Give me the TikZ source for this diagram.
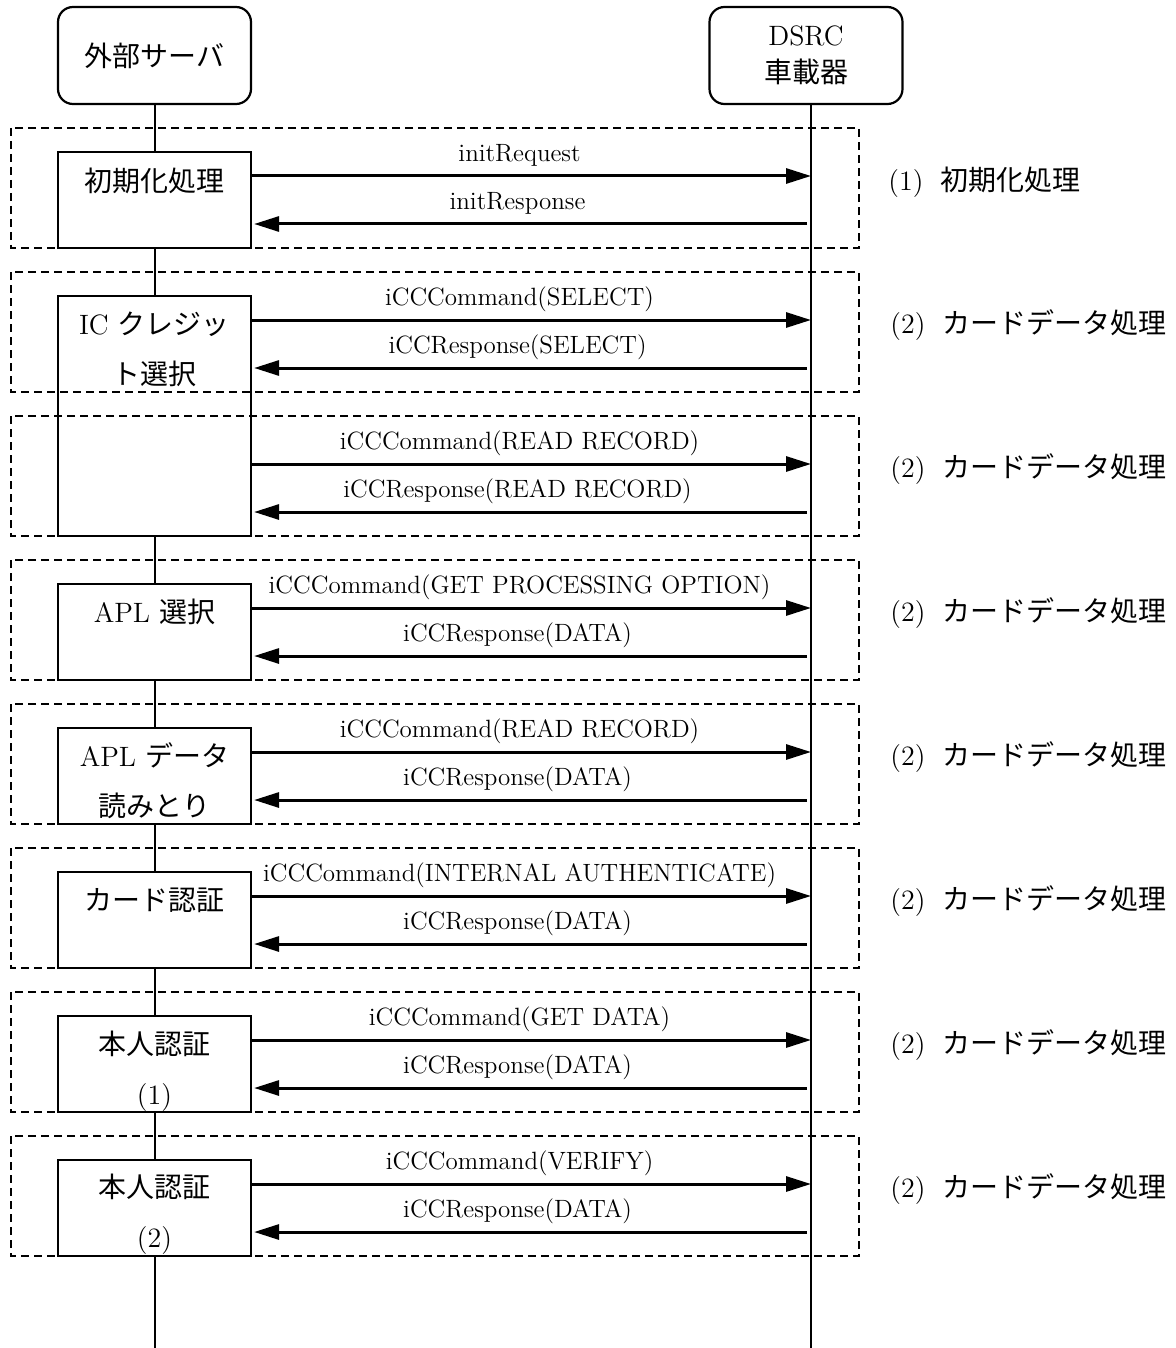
\documentclass[tikz,border=0pt]{standalone}
\usepackage{fontspec}
\newfontfamily\cjk{Noto Sans CJK JP}
\usetikzlibrary{arrows.meta, positioning}
\tikzset{
  seq/.style = {
    >={Triangle[length=12.5pt, width=7.5pt]},
  },
  head/.style = {
    rectangle, rounded corners=7.5pt, draw, line width=1.1pt,
    minimum width=96.5pt, minimum height=48.5pt, align=center, inner sep=2pt,
    font=\fontsize{14pt}{18.5pt}\selectfont,
  },
  proc/.style = {
    rectangle, draw, line width=1.1pt, fill=white,
    minimum width=96.5pt, minimum height=48pt, inner sep=0pt,
  },
  proctxt/.style = {
    align=center, inner sep=0pt, font=\fontsize{14pt}{25pt}\selectfont,
  },
  life/.style = {line width=1pt},
  frame/.style = {dash pattern=on 4pt off 2.5pt, line width=1pt},
  cmd/.style = {->, line width=1.5pt},
  rsp/.style = {->, line width=1.5pt, shorten >=1pt},
  msg/.style = {
    font=\fontsize{12.5pt}{14pt}\selectfont, inner sep=0pt, text depth=0pt,
    anchor=south, yshift=6.5pt, xshift=-6pt,
  },
  note/.style = {anchor=west, inner sep=0pt, font=\fontsize{14pt}{16pt}\selectfont},
}

\begin{document}
\begin{tikzpicture}[seq, x=0.5pt, y=0.5pt]
\useasboundingbox (0,0) rectangle (1176,-1348);

% lifelines
\node[head] (srv) at (154.5,-55.5) {{\cjk 外部サーバ}};
\node[head] (obu) at (806,-55.5)   {DSRC\\{\cjk 車載器}};
\coordinate (srvend) at (154.5,-1348);
\coordinate (obuend) at (811,-1348);
\draw[life] (srv.south) -- (srvend);
\draw[life] (obu.south -| obuend) -- (obuend);

% process boxes
\node[proc] (init)   at (154.5,-200) {};
\node[proc, minimum height=120pt] (icsel) at (154.5,-416) {};
\node[proc] (aplsel) at (154.5,-632)  {};
\node[proc] (apldat) at (154.5,-776)  {};
\node[proc] (cauth)  at (154.5,-920)  {};
\node[proc] (pin1)   at (154.5,-1064) {};
\node[proc] (pin2)   at (154.5,-1208) {};

\node[proctxt] (initT)   at (154.5,-181)  {\cjk 初期化処理};
\node[proctxt] (icselT)  at (154.5,-349)  {IC {\cjk クレジッ}\\{\cjk ト選択}};
\node[proctxt] (aplselT) at (154.5,-612)  {APL {\cjk 選択}};
\node[proctxt] (apldatT) at (154.5,-781)  {APL {\cjk データ}\\{\cjk 読みとり}};
\node[proctxt] (cauthT)  at (154.5,-900)  {\cjk カード認証};
\node[proctxt] (pin1T)   at (154.5,-1071) {{\cjk 本人認証}\\(1)};
\node[proctxt] (pin2T)   at (154.5,-1214) {{\cjk 本人認証}\\(2)};

% phase frames
\draw[frame] (11,-128)  rectangle (859,-248);
\draw[frame] (11,-272)  rectangle (859,-392);
\draw[frame] (11,-416)  rectangle (859,-536);
\draw[frame] (11,-560)  rectangle (859,-680);
\draw[frame] (11,-704)  rectangle (859,-824);
\draw[frame] (11,-848)  rectangle (859,-968);
\draw[frame] (11,-992)  rectangle (859,-1112);
\draw[frame] (11,-1136) rectangle (859,-1256);

% message ends on the DSRC lifeline
\coordinate (q1) at (811,-176);  \coordinate (a1) at (807,-224);
\coordinate (q2) at (811,-320);  \coordinate (a2) at (807,-368);
\coordinate (q3) at (811,-464);  \coordinate (a3) at (807,-512);
\coordinate (q4) at (811,-608);  \coordinate (a4) at (807,-656);
\coordinate (q5) at (811,-752);  \coordinate (a5) at (807,-800);
\coordinate (q6) at (811,-896);  \coordinate (a6) at (807,-944);
\coordinate (q7) at (811,-1040); \coordinate (a7) at (807,-1088);
\coordinate (q8) at (811,-1184); \coordinate (a8) at (807,-1232);

\draw[cmd] (init.east |- q1) -- node[msg] {initRequest} (q1);
\draw[rsp] (a1) -- node[msg] {initResponse} (init.east |- a1);
\draw[cmd] (icsel.east |- q2) -- node[msg] {iCCCommand(SELECT)} (q2);
\draw[rsp] (a2) -- node[msg] {iCCResponse(SELECT)} (icsel.east |- a2);
\draw[cmd] (icsel.east |- q3) -- node[msg] {iCCCommand(READ RECORD)} (q3);
\draw[rsp] (a3) -- node[msg] {iCCResponse(READ RECORD)} (icsel.east |- a3);
\draw[cmd] (aplsel.east |- q4) -- node[msg] {iCCCommand(GET PROCESSING OPTION)} (q4);
\draw[rsp] (a4) -- node[msg] {iCCResponse(DATA)} (aplsel.east |- a4);
\draw[cmd] (apldat.east |- q5) -- node[msg] {iCCCommand(READ RECORD)} (q5);
\draw[rsp] (a5) -- node[msg] {iCCResponse(DATA)} (apldat.east |- a5);
\draw[cmd] (cauth.east |- q6) -- node[msg] {iCCCommand(INTERNAL AUTHENTICATE)} (q6);
\draw[rsp] (a6) -- node[msg] {iCCResponse(DATA)} (cauth.east |- a6);
\draw[cmd] (pin1.east |- q7) -- node[msg] {iCCCommand(GET DATA)} (q7);
\draw[rsp] (a7) -- node[msg] {iCCResponse(DATA)} (pin1.east |- a7);
\draw[cmd] (pin2.east |- q8) -- node[msg] {iCCCommand(VERIFY)} (q8);
\draw[rsp] (a8) -- node[msg] {iCCResponse(DATA)} (pin2.east |- a8);

% phase notes
\node[note] (n1) at (888,-182)  {(1)\hspace{0.6em}{\cjk 初期化処理}};
\node[note] (n2) at (890,-325)  {(2)\hspace{0.6em}{\cjk カードデータ処理}};
\node[note] (n3) at (890,-469)  {(2)\hspace{0.6em}{\cjk カードデータ処理}};
\node[note] (n4) at (890,-613)  {(2)\hspace{0.6em}{\cjk カードデータ処理}};
\node[note] (n5) at (890,-757)  {(2)\hspace{0.6em}{\cjk カードデータ処理}};
\node[note] (n6) at (890,-901)  {(2)\hspace{0.6em}{\cjk カードデータ処理}};
\node[note] (n7) at (890,-1045) {(2)\hspace{0.6em}{\cjk カードデータ処理}};
\node[note] (n8) at (890,-1189) {(2)\hspace{0.6em}{\cjk カードデータ処理}};

\end{tikzpicture}
\end{document}
